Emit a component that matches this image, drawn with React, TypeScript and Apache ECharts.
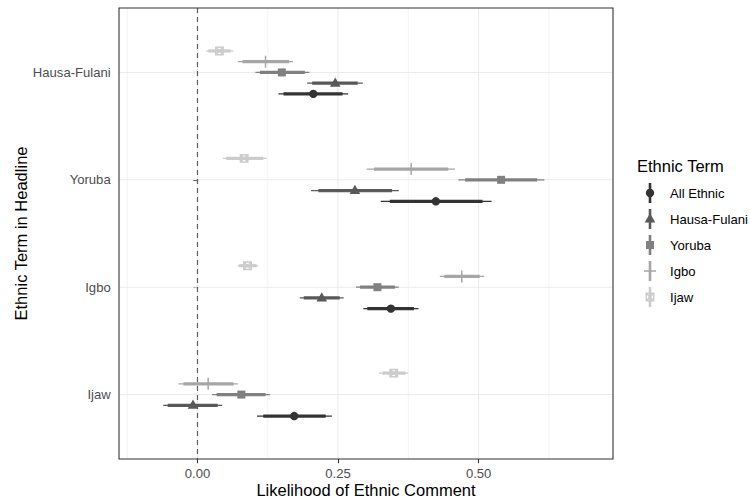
import React, { useEffect, useRef } from 'react';
import * as echarts from 'echarts';

const FONT = '"Liberation Sans", Arial, Helvetica, sans-serif';
const AXIS_TEXT = 13.1;
const TITLE_TEXT = 16.5;

// Headline categories, top to bottom
const categories = ['Hausa-Fulani', 'Yoruba', 'Igbo', 'Ijaw'];
// Ethnic term series (legend order)
const termNames = ['All Ethnic', 'Hausa-Fulani', 'Yoruba', 'Igbo', 'Ijaw'];
const termColors = ['#333333', '#595959', '#808080', '#A6A6A6', '#CCCCCC'];
const termShapes = ['circle', 'triangle', 'square', 'plus', 'squareCross'];
const dodgeOffsets = [-0.2, -0.1, 0, 0.1, 0.2];

// rows per headline category: [outer low, inner low, estimate, inner high, outer high]
const allEthnic = [
  [0.144, 0.153, 0.206, 0.258, 0.268],
  [0.326, 0.342, 0.424, 0.507, 0.523],
  [0.295, 0.302, 0.344, 0.385, 0.393],
  [0.106, 0.117, 0.172, 0.228, 0.239],
];
const hausaFulani = [
  [0.195, 0.204, 0.245, 0.285, 0.294],
  [0.202, 0.215, 0.280, 0.346, 0.358],
  [0.182, 0.189, 0.221, 0.253, 0.260],
  [-0.061, -0.053, -0.008, 0.036, 0.044],
];
const yoruba = [
  [0.103, 0.111, 0.150, 0.191, 0.199],
  [0.464, 0.476, 0.540, 0.604, 0.617],
  [0.282, 0.289, 0.320, 0.351, 0.358],
  [0.026, 0.034, 0.078, 0.121, 0.129],
];
const igbo = [
  [0.072, 0.080, 0.121, 0.163, 0.170],
  [0.301, 0.314, 0.380, 0.446, 0.458],
  [0.431, 0.439, 0.470, 0.502, 0.510],
  [-0.034, -0.025, 0.019, 0.064, 0.072],
];
const ijaw = [
  [0.015, 0.019, 0.039, 0.059, 0.064],
  [0.045, 0.051, 0.083, 0.117, 0.123],
  [0.071, 0.074, 0.089, 0.105, 0.108],
  [0.323, 0.329, 0.349, 0.370, 0.375],
];
const termData = [allEthnic, hausaFulani, yoruba, igbo, ijaw];

const xTicks = [0, 0.25, 0.5];
const xMinorGrid = [-0.125, 0.125, 0.375, 0.625];
const X_MIN = -0.1396;
const X_MAX = 0.739;
const refLineX = [0];

const catPos = (i: number) => categories.length - i;

function marker(shape: string, cx: number, cy: number, color: string): any {
  switch (shape) {
    case 'circle':
      return { type: 'circle', shape: { cx, cy, r: 4.2 }, style: { fill: color } };
    case 'triangle':
      return {
        type: 'polygon',
        shape: { points: [[cx, cy - 5.7], [cx - 5.3, cy + 3.5], [cx + 5.3, cy + 3.5]] },
        style: { fill: color },
      };
    case 'square':
      return { type: 'rect', shape: { x: cx - 4, y: cy - 4, width: 8, height: 8 }, style: { fill: color } };
    case 'plus':
      return {
        type: 'group',
        children: [
          { type: 'line', shape: { x1: cx - 6, y1: cy, x2: cx + 6, y2: cy }, style: { stroke: color, lineWidth: 1.5 } },
          { type: 'line', shape: { x1: cx, y1: cy - 6, x2: cx, y2: cy + 6 }, style: { stroke: color, lineWidth: 1.5 } },
        ],
      };
    default: {
      const h = 3.7;
      return {
        type: 'group',
        children: [
          { type: 'rect', shape: { x: cx - h, y: cy - h, width: 2 * h, height: 2 * h }, style: { fill: 'none', stroke: color, lineWidth: 1.5 } },
          { type: 'line', shape: { x1: cx - h, y1: cy - h, x2: cx + h, y2: cy + h }, style: { stroke: color, lineWidth: 1.5 } },
          { type: 'line', shape: { x1: cx - h, y1: cy + h, x2: cx + h, y2: cy - h }, style: { stroke: color, lineWidth: 1.5 } },
        ],
      };
    }
  }
}

export default function App() {
  const ref = useRef<HTMLDivElement>(null);
  useEffect(() => {
    if (!ref.current) return;
    const chart = echarts.init(ref.current, undefined, { renderer: 'svg' });

    const vGridSeries = (values: number[], width: number, z: number, color: string, dash?: number[]) => ({
      type: 'custom',
      silent: true,
      z,
      data: values.map((v) => [v, 1]),
      encode: { x: 0, y: 1 },
      renderItem: (params: any, api: any) => {
        const cs = params.coordSys;
        const x = api.coord([api.value(0), 1])[0];
        return {
          type: 'line',
          shape: { x1: x, y1: cs.y, x2: x, y2: cs.y + cs.height },
          style: { stroke: color, lineWidth: width, lineDash: dash || null },
        };
      },
    });

    const hGridSeries = {
      type: 'custom',
      silent: true,
      z: 1,
      data: categories.map((_, i) => [0, catPos(i)]),
      encode: { x: 0, y: 1 },
      renderItem: (params: any, api: any) => {
        const cs = params.coordSys;
        const y = api.coord([0, api.value(1)])[1];
        return {
          type: 'line',
          shape: { x1: cs.x, y1: y, x2: cs.x + cs.width, y2: y },
          style: { stroke: '#EBEBEB', lineWidth: 1.1 },
        };
      },
    };

    const dataSeries = termNames.map((name, s) => ({
      type: 'custom',
      name,
      z: 4,
      data: termData[s].map((row, c) => [catPos(c) + dodgeOffsets[s], ...row]),
      encode: { x: [1, 2, 3, 4, 5], y: 0 },
      renderItem: (_params: any, api: any) => {
        const y = api.value(0);
        const a = api.coord([api.value(1), y]);
        const b = api.coord([api.value(2), y]);
        const e = api.coord([api.value(3), y]);
        const c = api.coord([api.value(4), y]);
        const d = api.coord([api.value(5), y]);
        const color = termColors[s];
        return {
          type: 'group',
          children: [
            { type: 'line', shape: { x1: a[0], y1: a[1], x2: d[0], y2: d[1] }, style: { stroke: color, lineWidth: 1.3 } },
            { type: 'line', shape: { x1: b[0], y1: b[1], x2: c[0], y2: c[1] }, style: { stroke: color, lineWidth: 3.2 } },
            marker(termShapes[s], e[0], e[1], color),
          ],
        };
      },
    }));

    const legendEls: any[] = [
      {
        type: 'text',
        x: 637,
        y: 165.6,
        style: { text: 'Ethnic Term', fontSize: TITLE_TEXT, fontFamily: FONT, fill: '#000', align: 'left', verticalAlign: 'middle' },
      },
    ];
    termNames.forEach((name, s) => {
      const cy = 193 + 26 * s;
      legendEls.push({ type: 'line', shape: { x1: 650, y1: cy - 10, x2: 650, y2: cy + 10 }, style: { stroke: termColors[s], lineWidth: 2.6 } });
      legendEls.push(marker(termShapes[s], 650, cy, termColors[s]));
      legendEls.push({
        type: 'text',
        x: 670,
        y: cy,
        style: { text: name, fontSize: AXIS_TEXT, fontFamily: FONT, fill: '#000', align: 'left', verticalAlign: 'middle' },
      });
    });

    chart.setOption({
      animation: false,
      textStyle: { fontFamily: FONT },
      grid: {
        left: 119, right: 137, top: 8, bottom: 43,
        outerBoundsMode: 'none', containLabel: false,
        show: true, borderColor: '#333333', borderWidth: 1.1, backgroundColor: 'transparent', z: 6,
      },
      xAxis: {
        type: 'value',
        min: X_MIN,
        max: X_MAX,
        axisLine: { show: false },
        axisTick: { show: true, length: 4.2, lineStyle: { color: '#333333', width: 1.1 }, customValues: xTicks },
        axisLabel: {
          customValues: xTicks,
          formatter: (v: number) => v.toFixed(2),
          color: '#4D4D4D',
          fontSize: AXIS_TEXT,
          fontFamily: FONT,
          margin: 7.5,
        },
        splitLine: { show: false },
        name: 'Likelihood of Ethnic Comment',
        nameLocation: 'middle',
        nameGap: 22,
        nameMoveOverlap: false,
        nameTextStyle: { fontSize: TITLE_TEXT, color: '#000', fontFamily: FONT },
      },
      yAxis: {
        type: 'value',
        min: 0.4,
        max: 4.6,
        axisLine: { show: false },
        axisTick: { show: true, length: 4.2, lineStyle: { color: '#333333', width: 1.1 }, customValues: categories.map((_, i) => catPos(i)) },
        axisLabel: {
          customValues: categories.map((_, i) => catPos(i)),
          formatter: (v: number) => categories[categories.length - Math.round(v)],
          color: '#4D4D4D',
          fontSize: AXIS_TEXT,
          fontFamily: FONT,
          margin: 8.3,
        },
        splitLine: { show: false },
        name: 'Ethnic Term in Headline',
        nameLocation: 'middle',
        nameRotate: 90,
        nameGap: 90,
        nameMoveOverlap: false,
        nameTextStyle: { fontSize: TITLE_TEXT, color: '#000', fontFamily: FONT },
      },
      graphic: { elements: legendEls },
      series: [
        vGridSeries(xMinorGrid, 0.6, 1, '#EBEBEB'),
        vGridSeries(xTicks, 1.1, 1, '#EBEBEB'),
        hGridSeries,
        vGridSeries(refLineX, 1.2, 2, '#5E5E5E', [5, 4]),
        ...dataSeries,
      ],
    });
    return () => chart.dispose();
  }, []);
  return <div ref={ref} style={{ width: 750, height: 502, position: 'absolute', left: 0, top: 0 }} />;
}
